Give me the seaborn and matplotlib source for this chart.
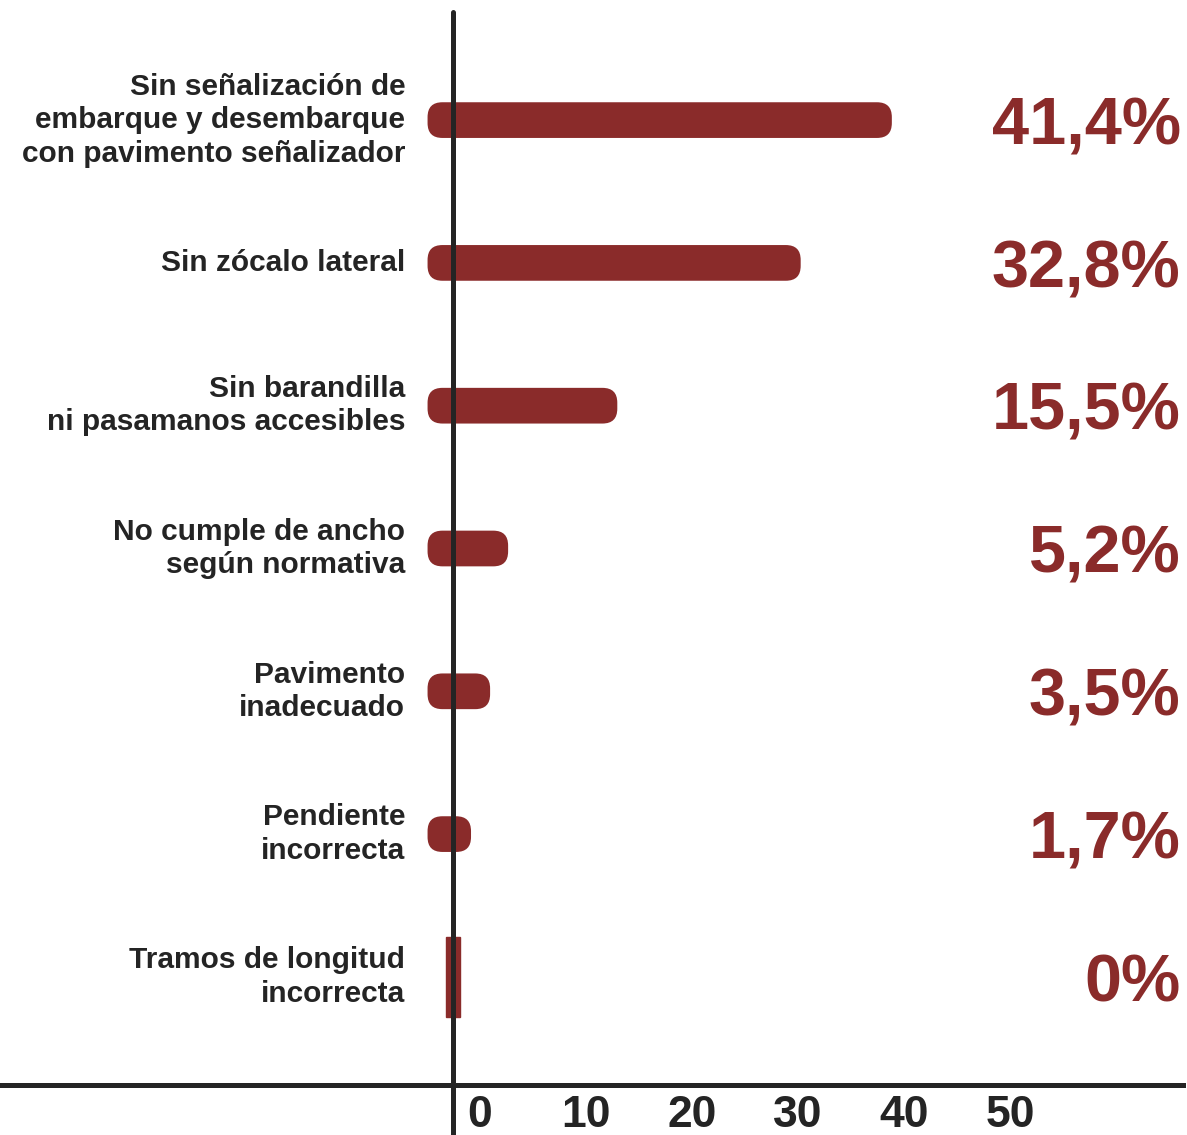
import matplotlib.pyplot as plt
import matplotlib.transforms as mtransforms
from matplotlib.patches import Rectangle, FancyBboxPatch
import seaborn as sns
import pandas as pd


# datos del gráfico
categorias = [
    "Sin señalización de\nembarque y desembarque\ncon pavimento señalizador",
    "Sin zócalo lateral",
    "Sin barandilla\nni pasamanos accesibles",
    "No cumple de ancho\nsegún normativa",
    "Pavimento\ninadecuado",
    "Pendiente\nincorrecta",
    "Tramos de longitud\nincorrecta",
]
porcentajes = [41.4, 32.8, 15.5, 5.2, 3.5, 1.7, 0.0]
etiquetas = ["41,4%", "32,8%", "15,5%", "5,2%", "3,5%", "1,7%", "0%"]
ticks_x = [0, 10, 20, 30, 40, 50]

ROJO = "#8a2b2a"
NEGRO = "#242424"

# estilo blanco sin grid
sns.set_style("white")
plt.rcParams["font.family"] = ["Liberation Sans", "DejaVu Sans"]

df = pd.DataFrame({"categoria": categorias, "valor": porcentajes})

fig = plt.figure(figsize=(11.87, 11.35), dpi=100)
ax = fig.add_axes([0, 50 / 1135, 1183 / 1187, 1073 / 1135])

sns.barplot(
    data=df,
    x="valor",
    y="categoria",
    orient="h",
    color=ROJO,
    saturation=1,
    width=0.25,
    ax=ax
)

# px por unidad en cada eje (para redondear los extremos)
px_x = 10.6
px_y = 142.8
radio = 1.4                       # en unidades de x
aspecto = (radio * px_x / px_y) / radio

# trazos tipo pincel: arrancan detrás del eje y tienen puntas redondeadas
inicio = -2.4
for patch, valor, i in zip(list(ax.patches), porcentajes, range(len(porcentajes))):
    patch.set_visible(False)
    alto = patch.get_height()
    y0 = patch.get_y()
    if valor > 0:
        ax.add_patch(FancyBboxPatch(
            (inicio, y0), valor - inicio, alto,
            boxstyle=f"round,pad=0,rounding_size={radio}",
            mutation_aspect=aspecto,
            facecolor=ROJO, edgecolor="none", zorder=2
        ))
    else:
        # valor cero: marca vertical sobre el eje
        ax.add_patch(Rectangle((valor - 0.7, i - 0.28), 1.4, 0.56,
                               color=ROJO, zorder=2))

# ejes
ax.set_xlim(-453 / px_x, (1183 - 453) / px_x)
ax.set_ylim(len(categorias) - 1 + 0.757, -0.757)
ax.set_xlabel("")
ax.set_ylabel("")
ax.set_yticks([])
ax.set_xticks(ticks_x)
ax.set_xticklabels([str(t) for t in ticks_x])
ax.tick_params(axis="x", length=0, pad=7, labelsize=32, colors=NEGRO)
for lab in ax.get_xticklabels():
    lab.set_fontweight("bold")

desplazar = mtransforms.ScaledTranslation(27 / 100, 0, fig.dpi_scale_trans)
for tick in ax.xaxis.get_major_ticks():
    tick.label1.set_transform(tick.label1.get_transform() + desplazar)

sns.despine(ax=ax, left=True, top=True, right=True)
ax.spines["bottom"].set_color(NEGRO)
ax.spines["bottom"].set_linewidth(3.6)

# eje vertical en cero
ax.axvline(0, ymin=-50 / 1073, ymax=1, color=NEGRO, lw=3.6,
           clip_on=False, zorder=3)

# nombres de categoría
for i, cat in enumerate(categorias):
    ax.text(-4.5, i, cat, ha="right", va="center", fontsize=21.5,
            fontweight="bold", color=NEGRO, linespacing=1.25)

# porcentajes a la derecha
trans = mtransforms.blended_transform_factory(ax.transAxes, ax.transData)
for i, txt in enumerate(etiquetas):
    ax.text(0.998, i + 0.17, txt, transform=trans, ha="right",
            va="baseline", fontsize=48, fontweight="bold", color=ROJO)

fig.savefig("out.png", dpi=100, facecolor="white")
